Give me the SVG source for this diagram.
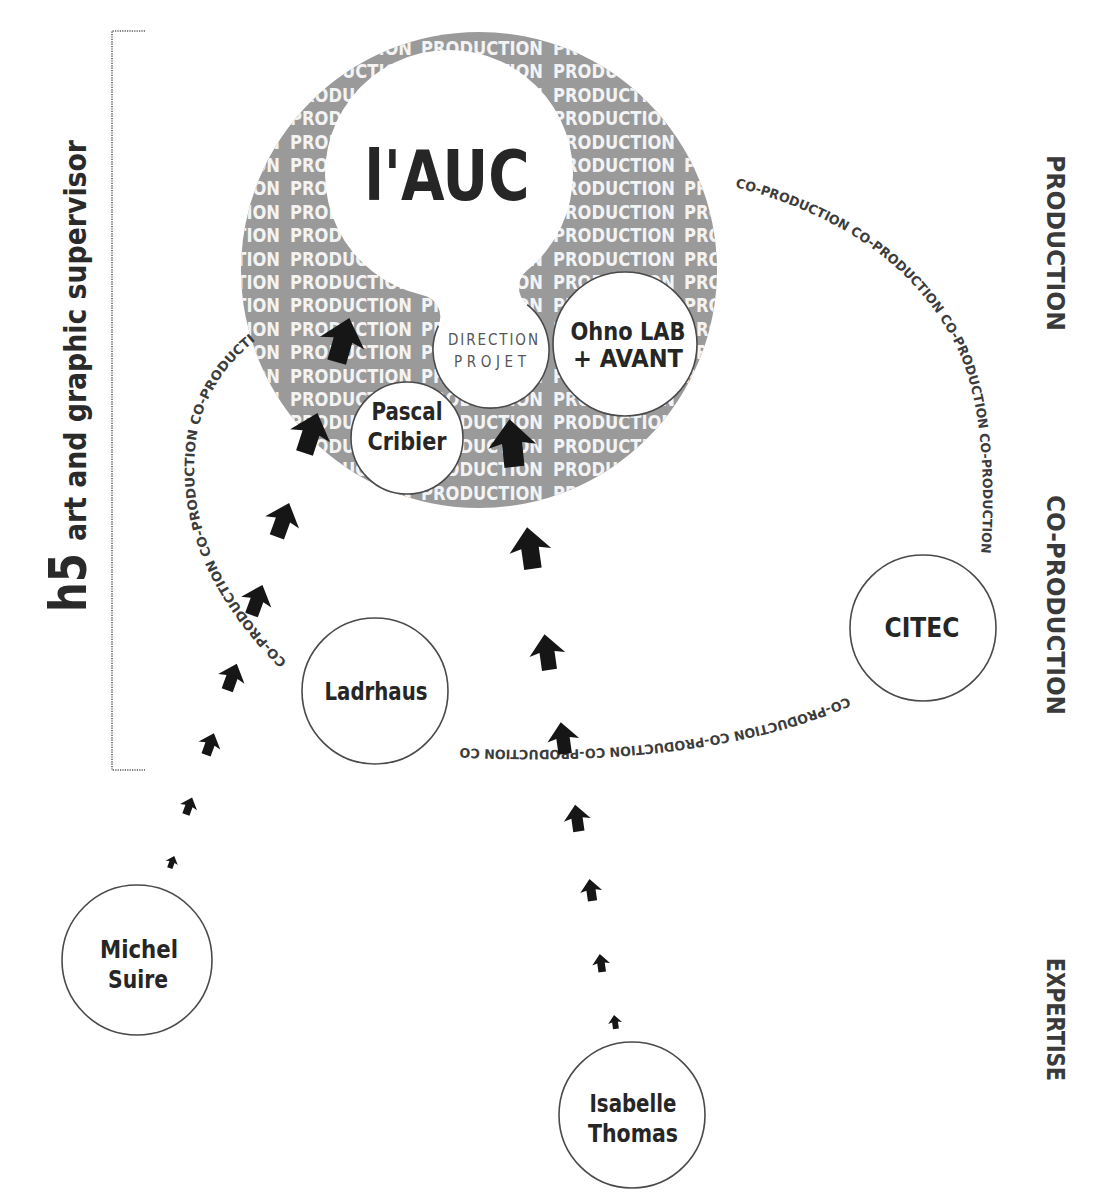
<svg xmlns="http://www.w3.org/2000/svg" xmlns:xlink="http://www.w3.org/1999/xlink" width="1107" height="1199" viewBox="0 0 1107 1199">
<defs>
<style>
.lbl{font-family:'DejaVu Sans Condensed','DejaVu Sans',sans-serif;font-stretch:condensed;font-weight:bold;fill:#262626;text-anchor:middle}
.side{font-family:'DejaVu Sans Condensed','DejaVu Sans',sans-serif;font-stretch:condensed;font-weight:bold;fill:#3a3a3a;font-size:24px}
.tex{font-family:'DejaVu Sans Condensed','DejaVu Sans',sans-serif;font-stretch:condensed;font-weight:bold;fill:#f3f3f3;font-size:19px}
.arc{font-family:'DejaVu Sans Condensed','DejaVu Sans',sans-serif;font-stretch:condensed;font-weight:bold;fill:#3c3c3c;font-size:13px}
.ring{fill:#fff;stroke:#4a4a4a;stroke-width:1.6}
.arrow{fill:#161616}
</style>
<clipPath id="bigclip"><circle cx="479" cy="270" r="238"/></clipPath>
<g id="row">
<text class="tex" x="158" textLength="122" lengthAdjust="spacingAndGlyphs">PRODUCTION</text>
<text class="tex" x="290" textLength="122" lengthAdjust="spacingAndGlyphs">PRODUCTION</text>
<text class="tex" x="421" textLength="122" lengthAdjust="spacingAndGlyphs">PRODUCTION</text>
<text class="tex" x="553" textLength="122" lengthAdjust="spacingAndGlyphs">PRODUCTION</text>
<text class="tex" x="684" textLength="122" lengthAdjust="spacingAndGlyphs">PRODUCTION</text>
</g>
<path id="arr" d="M0,-0.5 L0.5,0.07 L0.21,0 L0.21,0.5 L-0.21,0.5 L-0.21,0 L-0.5,0.07 Z"/>
<path id="pRight" d="M735,187 Q900,230 958,350 Q990,420 981,557"/>
<path id="pBottom" d="M848,697 Q700,760 460,748"/>
<path id="pLeft" d="M287,662 Q185,560 195,450 Q200,385 256,340"/>
</defs>

<rect x="0" y="0" width="1107" height="1199" fill="#ffffff"/>

<!-- side labels -->
<g id="label-h5">
<text class="lbl" style="text-anchor:start;font-size:52px;fill:#2a2a2a" transform="translate(86,612) rotate(-90)" textLength="59" lengthAdjust="spacingAndGlyphs">h5</text>
<text class="lbl" style="text-anchor:start;font-size:31px;fill:#2a2a2a" transform="translate(86,541) rotate(-90)" textLength="401" lengthAdjust="spacingAndGlyphs">art and graphic supervisor</text>
</g>
<g id="bracket" fill="none" stroke="#555" stroke-width="1.5" stroke-dasharray="1.2 1.2">
<path d="M145,31 H112 V770 H145"/>
</g>
<g id="label-production"><text class="side" transform="translate(1047,155) rotate(90)" textLength="176" lengthAdjust="spacingAndGlyphs">PRODUCTION</text></g>
<g id="label-coproduction"><text class="side" transform="translate(1047,495) rotate(90)" textLength="220" lengthAdjust="spacingAndGlyphs">CO-PRODUCTION</text></g>
<g id="label-expertise"><text class="side" transform="translate(1047,958) rotate(90)" textLength="123" lengthAdjust="spacingAndGlyphs">EXPERTISE</text></g>

<!-- production sphere -->
<g id="production-sphere">
<circle cx="479" cy="270" r="238" fill="#9a9a9a"/>
<g clip-path="url(#bigclip)">
<use href="#row" y="55"/><use href="#row" y="78.4"/><use href="#row" y="101.8"/><use href="#row" y="125.2"/>
<use href="#row" y="148.6"/><use href="#row" y="172"/><use href="#row" y="195.4"/><use href="#row" y="218.8"/>
<use href="#row" y="242.2"/><use href="#row" y="265.6"/><use href="#row" y="289"/><use href="#row" y="312.4"/>
<use href="#row" y="335.8"/><use href="#row" y="359.2"/><use href="#row" y="382.6"/><use href="#row" y="406"/>
<use href="#row" y="429.4"/><use href="#row" y="452.8"/><use href="#row" y="476.2"/><use href="#row" y="499.6"/>
</g>
</g>

<g id="node-auc">
<path d="M422.9,295.2 A124,124 0 1 1 527.0,270.4 A22,22 0 0 0 527.2,304.7 A58,58 0 1 1 438.3,325.9 A22,22 0 0 0 422.9,295.2 Z" fill="#fff"/>
<text class="lbl" x="447" y="200" style="font-size:70px" textLength="165" lengthAdjust="spacingAndGlyphs">l'AUC</text>
</g>
<g id="node-direction">
<path d="M527.2,304.7 A58,58 0 1 1 438.3,325.9" fill="none" stroke="#4a4a4a" stroke-width="1.6"/>
<text class="lbl" x="493" y="345" style="font-size:15px;font-weight:normal;fill:#555" textLength="90" lengthAdjust="spacing">DIRECTION</text>
<text class="lbl" x="490" y="367" style="font-size:15px;font-weight:normal;fill:#555" textLength="72" lengthAdjust="spacing">PROJET</text>
</g>
<g id="node-ohno">
<circle class="ring" cx="625" cy="344" r="72"/>
<text class="lbl" x="628" y="340" style="font-size:25px" textLength="115" lengthAdjust="spacingAndGlyphs">Ohno LAB</text>
<text class="lbl" x="628" y="367" style="font-size:25px" textLength="110" lengthAdjust="spacingAndGlyphs">+ AVANT</text>
</g>
<g id="node-pascal">
<circle class="ring" cx="407" cy="438" r="56"/>
<text class="lbl" x="407" y="420" style="font-size:25px" textLength="71" lengthAdjust="spacingAndGlyphs">Pascal</text>
<text class="lbl" x="407" y="450" style="font-size:25px" textLength="79" lengthAdjust="spacingAndGlyphs">Cribier</text>
</g>

<g id="node-ladrhaus">
<circle class="ring" cx="375" cy="691" r="73"/>
<text class="lbl" x="376" y="700" style="font-size:25px" textLength="103" lengthAdjust="spacingAndGlyphs">Ladrhaus</text>
</g>
<g id="node-citec">
<circle class="ring" cx="923" cy="628" r="73"/>
<text class="lbl" x="922" y="637" style="font-size:26px" textLength="75" lengthAdjust="spacingAndGlyphs">CITEC</text>
</g>
<g id="node-michel">
<circle class="ring" cx="137" cy="960" r="75"/>
<text class="lbl" x="139" y="958" style="font-size:25px" textLength="78" lengthAdjust="spacingAndGlyphs">Michel</text>
<text class="lbl" x="138" y="988" style="font-size:25px" textLength="60" lengthAdjust="spacingAndGlyphs">Suire</text>
</g>
<g id="node-isabelle">
<circle class="ring" cx="632" cy="1115" r="73"/>
<text class="lbl" x="633" y="1112" style="font-size:25px" textLength="87" lengthAdjust="spacingAndGlyphs">Isabelle</text>
<text class="lbl" x="633" y="1142" style="font-size:25px" textLength="90" lengthAdjust="spacingAndGlyphs">Thomas</text>
</g>

<!-- co-production ring text -->
<g id="coproduction-ring">
<text class="arc"><textPath href="#pRight" textLength="492" lengthAdjust="spacingAndGlyphs">CO-PRODUCTION CO-PRODUCTION CO-PRODUCTION CO-PRODUCTION</textPath></text>
<text class="arc"><textPath href="#pBottom" textLength="395" lengthAdjust="spacingAndGlyphs">CO-PRODUCTION CO-PRODUCTION CO-PRODUCTION CO</textPath></text>
<text class="arc"><textPath href="#pLeft" textLength="368" lengthAdjust="spacingAndGlyphs">CO-PRODUCTION CO-PRODUCTION CO-PRODUCTI</textPath></text>
</g>

<!-- connectors: arrow chains -->
<g id="connectors" class="arrow">
<use href="#arr" transform="translate(172,862) rotate(20) scale(13)"/>
<use href="#arr" transform="translate(189,806) rotate(20) scale(18)"/>
<use href="#arr" transform="translate(210,744) rotate(20) scale(23)"/>
<use href="#arr" transform="translate(232,677) rotate(20) scale(28)"/>
<use href="#arr" transform="translate(257,600) rotate(20) scale(32)"/>
<use href="#arr" transform="translate(283,520) rotate(20) scale(36)"/>
<use href="#arr" transform="translate(311,433) rotate(18) scale(42)"/>
<use href="#arr" transform="translate(343,340) rotate(16) scale(46)"/>

<use href="#arr" transform="translate(615,1022) rotate(-8) scale(14)"/>
<use href="#arr" transform="translate(601,963) rotate(-8) scale(18)"/>
<use href="#arr" transform="translate(591,890) rotate(-8) scale(22)"/>
<use href="#arr" transform="translate(577,818) rotate(-8) scale(27)"/>
<use href="#arr" transform="translate(563,738) rotate(-8) scale(32)"/>
<use href="#arr" transform="translate(547,652) rotate(-8) scale(36)"/>
<use href="#arr" transform="translate(530,548) rotate(-8) scale(42)"/>
<use href="#arr" transform="translate(512,443) rotate(-6) scale(48)"/>
</g>
</svg>
